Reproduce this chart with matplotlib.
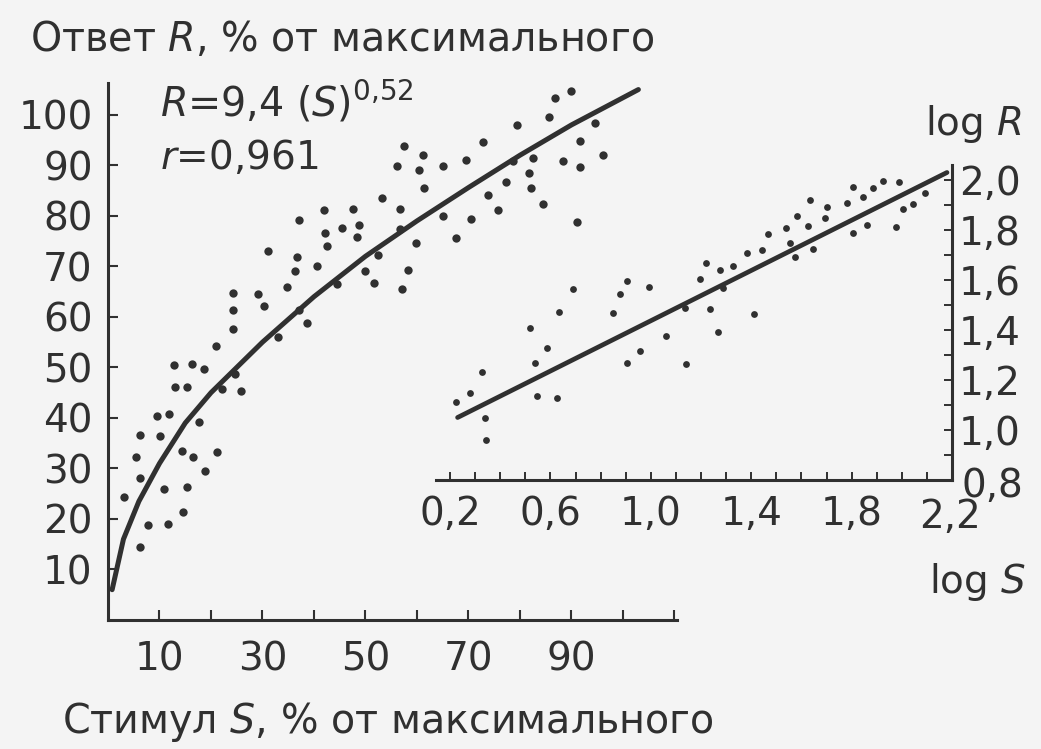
import matplotlib.pyplot as plt
import numpy as np

plt.rcParams['font.family'] = ['DejaVu Sans']
plt.rcParams['mathtext.fontset'] = 'dejavusans'

INK = '#303030'
BG = '#f4f4f4'
FS = 27

# main plot: stimulus S (% of max) vs response R (% of max)
stim = [33.1, 21.0, 12.8, 16.4, 18.6, 24.7, 13.0, 15.3, 22.1, 25.8, 9.6, 11.9,
        17.7, 6.3, 10.1, 5.4, 14.3, 16.6, 21.1, 6.2, 18.8, 3.1, 10.9, 15.4,
        7.8, 11.7, 14.6, 6.2,
        56.1, 60.3, 61.2, 61.4, 53.3, 56.7, 56.7, 59.9, 41.9, 47.6, 37.0, 45.4,
        48.8, 42.1, 48.3, 42.5, 31.1, 36.8, 52.5, 40.5, 36.3, 49.9, 58.3, 34.7,
        44.4, 51.7, 57.0, 24.3, 29.2, 30.2, 24.3, 37.0, 38.6, 24.3,
        90.0, 86.8, 85.6, 79.5, 94.6, 72.8, 91.7, 57.5, 69.6, 65.0, 88.4, 91.7,
        96.2, 82.6, 78.7, 77.3, 81.8, 82.1, 73.7, 75.8, 84.4, 65.1, 70.5, 67.6,
        91.1]
resp = [56.1, 54.3, 50.5, 50.7, 49.6, 48.7, 46.1, 46.1, 45.7, 45.4, 40.3, 40.7,
        39.1, 36.6, 36.4, 32.3, 33.5, 32.3, 33.3, 28.1, 29.4, 24.3, 25.9, 26.4,
        18.8, 19.0, 21.4, 14.5,
        89.8, 89.0, 92.1, 85.5, 83.5, 81.3, 77.4, 74.6, 81.2, 81.4, 79.2, 77.6,
        78.2, 76.6, 75.8, 74.1, 73.1, 71.9, 72.3, 70.0, 69.0, 69.0, 69.3, 66.0,
        66.5, 66.7, 65.5, 64.8, 64.6, 62.2, 61.4, 61.4, 58.8, 57.6,
        104.8, 103.3, 99.5, 98.0, 98.3, 94.7, 94.9, 93.9, 91.0, 89.9, 90.8, 89.6,
        92.1, 91.5, 90.8, 86.8, 88.4, 85.5, 84.2, 81.2, 82.4, 80.0, 79.3, 75.7,
        78.7]

# fitted curve R = 9,4 S^0,52 as drawn
curve_s = [0.8, 3, 6, 10, 15, 20, 30, 40, 50, 60, 70, 80, 90, 103]
curve_r = [6, 16, 23.5, 31, 39, 45, 55, 64, 72, 79, 85.6, 92, 98, 105]

# inset: log S vs log R
log_s = [0.224, 0.280, 0.326, 0.339, 0.343, 0.519, 0.539, 0.588, 0.545, 0.628,
         0.636, 0.689, 0.848, 0.877, 0.904, 0.994, 0.904, 0.957, 1.061, 1.140,
         1.136, 1.196, 1.220, 1.276, 1.329, 1.382, 1.442, 1.468, 1.539, 1.584,
         1.634, 1.628, 1.554, 1.574, 1.647, 1.701, 1.694, 1.780, 1.807, 1.844,
         1.884, 1.926, 1.990, 1.807, 1.860, 1.977, 2.003, 2.046, 2.092, 1.236,
         1.269, 1.411, 1.289]
log_r = [1.113, 1.149, 1.231, 1.047, 0.960, 1.407, 1.267, 1.329, 1.136, 1.129,
         1.473, 1.563, 1.467, 1.543, 1.596, 1.573, 1.267, 1.316, 1.377, 1.264,
         1.487, 1.603, 1.669, 1.640, 1.656, 1.709, 1.720, 1.784, 1.809, 1.856,
         1.920, 1.817, 1.747, 1.693, 1.723, 1.893, 1.847, 1.909, 1.971, 1.933,
         1.967, 1.997, 1.993, 1.787, 1.820, 1.813, 1.883, 1.903, 1.949, 1.483,
         1.393, 1.464, 1.567]
line_s = [0.23, 2.18]
line_r = [1.05, 2.03]

W, H = 1041, 749
fig = plt.figure(figsize=(W / 100, H / 100), dpi=100)
fig.patch.set_facecolor(BG)

def box(x0, y0, x1, y1):
    return [x0 / W, 1 - y1 / H, (x1 - x0) / W, (y1 - y0) / H]

# ---- main axes
ax = fig.add_axes(box(108, 83, 677, 620))
ax.patch.set_visible(False)
ax.scatter(stim, resp, s=36, color=INK, linewidths=0, zorder=3)
ax.plot(curve_s, curve_r, color=INK, lw=3.6, solid_capstyle='round', zorder=4)
ax.set_xlim(0, 110.5)
ax.set_ylim(0, 106.3)
for sp in ['top', 'right']:
    ax.spines[sp].set_visible(False)
for sp in ['left', 'bottom']:
    ax.spines[sp].set_color(INK)
    ax.spines[sp].set_linewidth(2.2)
ax.set_xticks(range(10, 111, 10))
ax.set_xticklabels(['10', '', '30', '', '50', '', '70', '', '90', '', ''])
ax.set_yticks(range(10, 101, 10))
ax.set_yticklabels([str(v) for v in range(10, 101, 10)])
ax.tick_params(axis='both', direction='in', length=7, width=1.5, color=INK,
               labelcolor=INK, labelsize=FS + 1)
ax.tick_params(axis='x', pad=15)
ax.tick_params(axis='y', pad=11)

# ---- inset axes
ins = fig.add_axes(box(436, 165, 952, 480))
ins.patch.set_visible(False)
ins.scatter(log_s, log_r, s=24, color=INK, linewidths=0, zorder=3)
ins.plot(line_s, line_r, color=INK, lw=3.4, solid_capstyle='round', zorder=4)
ins.set_xlim(0.144, 2.2)
ins.set_ylim(0.8, 2.06)
for sp in ['top', 'left']:
    ins.spines[sp].set_visible(False)
for sp in ['right', 'bottom']:
    ins.spines[sp].set_color(INK)
    ins.spines[sp].set_linewidth(2.2)
ins.yaxis.tick_right()
ins.set_xticks(np.arange(2, 22) / 10)
ins.set_xticklabels(['0,2' if i == 2 else '0,6' if i == 6 else '1,0' if i == 10 else
                     '1,4' if i == 14 else '1,8' if i == 18 else ''
                     for i in range(2, 22)])
ins.set_yticks(np.arange(8, 21) / 10)
ins.set_yticklabels(['', '', '1,0', '', '1,2', '', '1,4', '', '1,6', '',
                     '1,8', '', '2,0'])
ins.tick_params(axis='both', direction='in', length=6, width=1.4, color=INK,
                labelcolor=INK, labelsize=FS + 1)
ins.tick_params(axis='x', pad=11)
ins.tick_params(axis='y', pad=5)

def ftext(x, y, s, **kw):
    fig.text(x / W, 1 - y / H, s, color=INK, **kw)

ftext(950, 517, '2,2', ha='center', va='center', fontsize=FS + 1)
ftext(962, 486, '0,8', ha='left', va='center', fontsize=FS + 1)
ftext(30, 40, r'Ответ $\mathit{R}$, % от максимального', ha='left', va='center', fontsize=FS + 1.5)
ftext(62, 722, r'Стимул $\mathit{S}$, % от максимального', ha='left', va='center', fontsize=FS + 1.5)
ftext(160, 102, r'$\mathit{R}$=9,4 ($\mathit{S}$)$^{0{,}52}$', ha='left', va='center', fontsize=FS + 1.5)
ftext(160, 158, r'$\mathit{r}$=0,961', ha='left', va='center', fontsize=FS + 1)
ftext(1022, 124, r'log $\mathit{R}$', ha='right', va='center', fontsize=FS + 1)
ftext(1026, 582, r'log $\mathit{S}$', ha='right', va='center', fontsize=FS + 1)

fig.savefig('out.png', dpi=100, facecolor=BG)
